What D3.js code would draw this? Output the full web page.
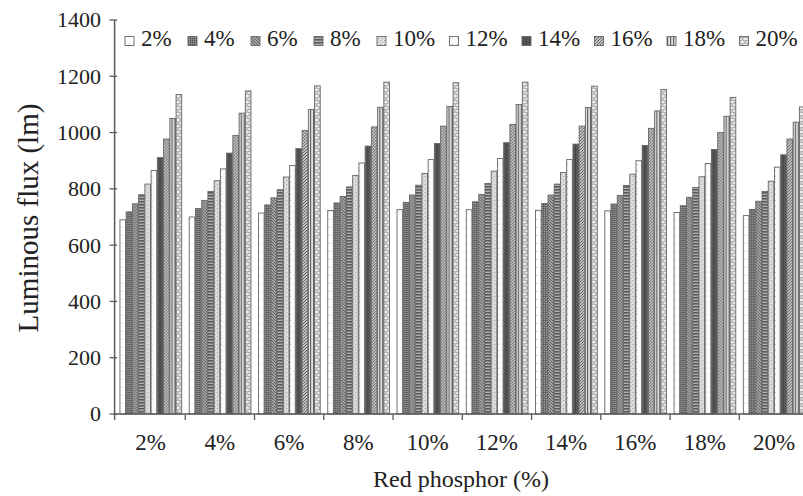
<!DOCTYPE html>
<html>
<head>
<meta charset="utf-8">
<script src="https://cdn.jsdelivr.net/npm/d3@7"></script>
<style>
  html, body { margin: 0; padding: 0; background: #fff; }
  svg { display: block; }
  text { font-family: "Liberation Serif", "Times New Roman", serif; fill: #222; }
</style>
</head>
<body>
<svg id="chart" width="803" height="496"></svg>
<script>
// ---- data ----
const categories = ["2%", "4%", "6%", "8%", "10%", "12%", "14%", "16%", "18%", "20%"];
const seriesNames = ["2%", "4%", "6%", "8%", "10%", "12%", "14%", "16%", "18%", "20%"];
const s2  = [690, 700, 714, 723, 726, 726, 724, 722, 716, 705];
const s4  = [718, 730, 743, 750, 752, 754, 748, 746, 740, 727];
const s6  = [747, 759, 768, 773, 778, 780, 778, 777, 770, 756];
const s8  = [779, 791, 797, 807, 813, 819, 817, 812, 805, 791];
const s10 = [817, 829, 842, 848, 855, 863, 858, 852, 843, 827];
const s12 = [865, 871, 883, 892, 904, 908, 904, 900, 890, 877];
const s14 = [911, 927, 943, 952, 961, 964, 959, 954, 940, 921];
const s16 = [977, 990, 1008, 1020, 1023, 1029, 1023, 1015, 1000, 977];
const s18 = [1050, 1069, 1082, 1090, 1093, 1100, 1089, 1077, 1058, 1037];
const s20 = [1135, 1148, 1166, 1179, 1177, 1179, 1165, 1153, 1125, 1091];
const seriesValues = [s2, s4, s6, s8, s10, s12, s14, s16, s18, s20];
const yTicks = [0, 200, 400, 600, 800, 1000, 1200, 1400];
const yTitle = "Luminous flux (lm)";
const xTitle = "Red phosphor (%)";

// ---- layout ----
const svg = d3.select("#chart");
const axisColor = "#5a5a5a";
const mLeft = 114.6, mRight = 810, mTop = 20, mBottom = 414;

const x0 = d3.scaleBand().domain(categories).range([mLeft, mRight])
  .paddingInner(0.1).paddingOuter(0.07);
const x1 = d3.scaleBand().domain(seriesNames).range([0, x0.bandwidth()]);
const y = d3.scaleLinear().domain([0, 1400]).range([mBottom, mTop]);

// ---- patterns ----
const defs = svg.append("defs");
function pat(id, w, h, bg, draw) {
  const p = defs.append("pattern").attr("id", id).attr("patternUnits", "userSpaceOnUse")
    .attr("width", w).attr("height", h);
  p.append("rect").attr("width", w).attr("height", h).attr("fill", bg);
  draw(p);
}
pat("p0", 4, 8, "#fff", p => {
  p.append("rect").attr("x", 1).attr("y", 3).attr("width", 1).attr("height", 1).attr("fill", "#c8c8c8");
});
pat("p1", 2, 2, "#777", p => {
  p.append("rect").attr("x", 0).attr("y", 0).attr("width", 1).attr("height", 1).attr("fill", "#505050");
  p.append("rect").attr("x", 1).attr("y", 1).attr("width", 1).attr("height", 1).attr("fill", "#959595");
});
pat("p2", 3, 3, "#cccccc", p => {
  p.append("path").attr("d", "M-1,-1 L4,4 M-1,2 L1,4 M2,-1 L4,1").attr("stroke", "#505050").attr("stroke-width", 1.1);
});
pat("p3", 4, 3, "#b0b0b0", p => {
  p.append("rect").attr("x", 0).attr("y", 0).attr("width", 4).attr("height", 1.6).attr("fill", "#5a5a5a");
});
pat("p4", 4, 4, "#dddddd", p => {
  p.append("rect").attr("x", 0).attr("y", 0).attr("width", 1).attr("height", 1).attr("fill", "#999");
  p.append("rect").attr("x", 2).attr("y", 2).attr("width", 1).attr("height", 1).attr("fill", "#aaa");
});
pat("p5", 5, 6, "#fbfbfb", p => {
  p.append("rect").attr("x", 2).attr("y", 2).attr("width", 1).attr("height", 1).attr("fill", "#bbb");
});
pat("p6", 3, 3, "#585858", p => {
  p.append("rect").attr("x", 1).attr("y", 0).attr("width", 1).attr("height", 3).attr("fill", "#454545");
});
pat("p7", 3, 3, "#c4c4c4", p => {
  p.append("path").attr("d", "M-1,4 L4,-1 M-1,1 L1,-1 M2,4 L4,2").attr("stroke", "#626262").attr("stroke-width", 1);
});
pat("p8", 3, 3, "#e2e2e2", p => {
  p.append("rect").attr("x", 1).attr("y", 0).attr("width", 1.2).attr("height", 3).attr("fill", "#626262");
});
pat("p9", 6, 6, "#ececec", p => {
  p.append("path").attr("d", "M0,1.5 Q1.5,0 3,1.5 T6,1.5 M0,4.5 Q1.5,6 3,4.5 T6,4.5")
    .attr("fill", "none").attr("stroke", "#8c8c8c").attr("stroke-width", 1);
});

// ---- bars ----
const groups = svg.append("g").selectAll("g").data(categories).join("g")
  .attr("transform", d => `translate(${x0(d)},0)`);
groups.selectAll("rect")
  .data((c, ci) => seriesNames.map((s, si) => ({ s, si, v: seriesValues[si][ci] })))
  .join("rect")
  .attr("x", d => x1(d.s) + 0.5)
  .attr("y", d => y(d.v))
  .attr("width", x1.bandwidth() - 0.6)
  .attr("height", d => y(0) - y(d.v))
  .attr("fill", d => `url(#p${d.si})`)
  .attr("stroke", "#666")
  .attr("stroke-width", 0.9);

// ---- axes ----
const axG = svg.append("g");
axG.append("line").attr("x1", mLeft).attr("x2", mLeft).attr("y1", y(1400)).attr("y2", mBottom + 6)
  .attr("stroke", axisColor).attr("stroke-width", 1.5);
axG.append("line").attr("x1", mLeft).attr("x2", 803).attr("y1", mBottom).attr("y2", mBottom)
  .attr("stroke", axisColor).attr("stroke-width", 1.5);
axG.selectAll("line.yt").data(yTicks).join("line").attr("class", "yt")
  .attr("x1", mLeft - 5).attr("x2", mLeft + 2.5)
  .attr("y1", d => y(d)).attr("y2", d => y(d))
  .attr("stroke", axisColor).attr("stroke-width", 1.3);
axG.selectAll("text.yl").data(yTicks).join("text").attr("class", "yl")
  .attr("x", 101).attr("y", d => y(d)).attr("dy", "0.34em")
  .attr("text-anchor", "end").attr("font-size", 22).text(d => d);
const step = x0.step();
axG.selectAll("line.xt").data(categories.slice(1)).join("line").attr("class", "xt")
  .attr("x1", d => x0(d) - step * x0.paddingInner() / 2)
  .attr("x2", d => x0(d) - step * x0.paddingInner() / 2)
  .attr("y1", mBottom).attr("y2", mBottom + 6)
  .attr("stroke", axisColor).attr("stroke-width", 1.3);
axG.selectAll("text.xl").data(categories).join("text").attr("class", "xl")
  .attr("x", d => x0(d) + x0.bandwidth() / 2).attr("y", 450)
  .attr("text-anchor", "middle").attr("font-size", 23).text(d => d);

svg.append("text").attr("transform", "translate(38,218) rotate(-90)")
  .attr("text-anchor", "middle").attr("font-size", 29).text(yTitle);
svg.append("text").attr("x", 461).attr("y", 487)
  .attr("text-anchor", "middle").attr("font-size", 24).text(xTitle);

// ---- legend ----
const lg = svg.append("g");
let lx = 125;
seriesNames.forEach((s, i) => {
  lg.append("rect").attr("x", lx).attr("y", 36.5).attr("width", 9).attr("height", 9)
    .attr("fill", `url(#p${i})`).attr("stroke", "#666").attr("stroke-width", 0.9);
  const t = lg.append("text").attr("x", lx + 16).attr("y", 46).attr("font-size", 23).text(s);
  lx += s.length > 2 ? 72.5 : 63;
});
</script>
</body>
</html>
